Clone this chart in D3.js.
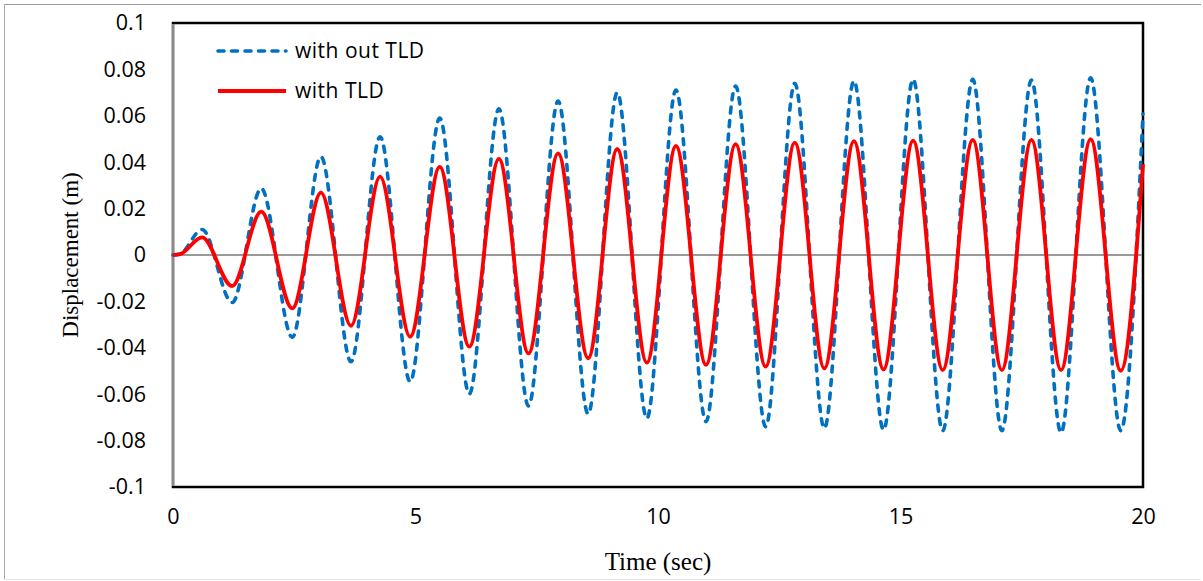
<!DOCTYPE html>
<html>
<head>
<meta charset="utf-8">
<script src="https://cdn.jsdelivr.net/npm/d3@7"></script>
<style>
  body { margin: 0; background: #fff; }
  svg { display: block; }
</style>
</head>
<body>
<div id="chart"></div>
<script>
// time (sec) of the readings: start, then each peak / trough, then the end
const time = [0, 0.15, 0.60, 1.22, 1.82, 2.46, 3.05, 3.67, 4.27, 4.89, 5.50, 6.11, 6.72, 7.33,
  7.94, 8.56, 9.16, 9.77, 10.37, 10.99, 11.60, 12.22, 12.82, 13.43, 14.04, 14.65, 15.26,
  15.87, 16.49, 17.09, 17.70, 18.31, 18.92, 19.54, 20];

// displacement (m) without the tuned liquid damper
const withoutTLD = [0, 0.0005, 0.011, -0.0205, 0.0287, -0.0355, 0.0424, -0.046, 0.051, -0.0546,
  0.059, -0.0599, 0.063, -0.0651, 0.0664, -0.0685, 0.070, -0.0704, 0.0711, -0.0718, 0.0728,
  -0.074, 0.074, -0.0747, 0.075, -0.0754, 0.0757, -0.0757, 0.0757, -0.0757, 0.0754, -0.0766,
  0.0764, -0.0757, 0.0608];

// displacement (m) with the tuned liquid damper
const withTLD = [0, 0.0004, 0.0076, -0.0134, 0.0187, -0.023, 0.0269, -0.0305, 0.0338, -0.0352,
  0.038, -0.0395, 0.0414, -0.0424, 0.0438, -0.0445, 0.0457, -0.0464, 0.047, -0.0474, 0.0478,
  -0.0481, 0.0484, -0.0489, 0.0491, -0.0493, 0.0493, -0.0496, 0.0496, -0.0496, 0.0496, -0.0496,
  0.0499, -0.0499, 0.0392];

const seriesNames = ["with out TLD", "with TLD"];
const xTicks = [0, 5, 10, 15, 20];
const yTicks = [0.1, 0.08, 0.06, 0.04, 0.02, 0, -0.02, -0.04, -0.06, -0.08, -0.1];

const width = 1203;
const height = 581;
const plot = { left: 173, right: 1143, top: 23, bottom: 487 };

const svg = d3.select("#chart")
  .append("svg")
  .attr("width", width)
  .attr("height", height);

// outer chart frame
svg.append("line").attr("x1", 4.5).attr("x2", 1201).attr("y1", 4.5).attr("y2", 4.5)
  .attr("stroke", "#999").attr("stroke-width", 1);
svg.append("line").attr("x1", 4.5).attr("x2", 4.5).attr("y1", 4.5).attr("y2", 579)
  .attr("stroke", "#aaa").attr("stroke-width", 1);
svg.append("line").attr("x1", 4.5).attr("x2", 1201).attr("y1", 579.5).attr("y2", 579.5)
  .attr("stroke", "#e3e3e3").attr("stroke-width", 1);

const x = d3.scaleLinear().domain([0, 20]).range([plot.left, plot.right]);
const y = d3.scaleLinear().domain([-0.1, 0.1]).range([plot.bottom, plot.top]);

// plot area border
svg.append("rect")
  .attr("x", plot.left)
  .attr("y", plot.top)
  .attr("width", plot.right - plot.left)
  .attr("height", plot.bottom - plot.top)
  .attr("fill", "none")
  .attr("stroke", "#000")
  .attr("stroke-width", 2.5);

// vertical axis (grey) and zero line
svg.append("line")
  .attr("x1", x(0)).attr("x2", x(0))
  .attr("y1", plot.top + 1).attr("y2", plot.bottom - 1)
  .attr("stroke", "#8a8a8a").attr("stroke-width", 2);

svg.append("line")
  .attr("x1", x(0)).attr("x2", plot.right - 1)
  .attr("y1", y(0)).attr("y2", y(0))
  .attr("stroke", "#999").attr("stroke-width", 2);

// tick labels (plain hyphen for negatives, as in the original)
const yAxis = d3.axisLeft(y)
  .tickValues(yTicks)
  .tickSize(0)
  .tickPadding(27)
  .tickFormat(d => String(+d.toFixed(2)));

svg.append("g")
  .attr("transform", `translate(${plot.left},0)`)
  .call(yAxis)
  .call(g => g.select(".domain").remove())
  .selectAll("text")
  .attr("font-family", "'Open Sans', sans-serif")
  .attr("font-size", 21.5)
  .attr("fill", "#000");

const xAxis = d3.axisBottom(x)
  .tickValues(xTicks)
  .tickSize(0)
  .tickPadding(22)
  .tickFormat(d => String(d));

svg.append("g")
  .attr("transform", `translate(0,${plot.bottom})`)
  .call(xAxis)
  .call(g => g.select(".domain").remove())
  .selectAll("text")
  .attr("font-family", "'Open Sans', sans-serif")
  .attr("font-size", 21.5)
  .attr("fill", "#000");

// axis titles
svg.append("text")
  .attr("x", (plot.left + plot.right) / 2)
  .attr("y", 570)
  .attr("text-anchor", "middle")
  .attr("font-family", "'Liberation Serif', serif")
  .attr("font-size", 25)
  .text("Time (sec)");

svg.append("text")
  .attr("transform", `translate(78,${(plot.top + plot.bottom) / 2}) rotate(-90)`)
  .attr("text-anchor", "middle")
  .attr("font-family", "'Liberation Serif', serif")
  .attr("font-size", 23)
  .text("Displacement (m)");

// series
const line = d3.line()
  .x((d, i) => x(time[i]))
  .y(d => y(d))
  .curve(d3.curveMonotoneX);

const styles = [
  { color: "#0070c0", dash: "6,7.5", width: 3.6 },
  { color: "#ff0000", dash: null, width: 3.8 }
];

[withoutTLD, withTLD].forEach((values, k) => {
  svg.append("path")
    .datum(values)
    .attr("d", line)
    .attr("fill", "none")
    .attr("stroke", styles[k].color)
    .attr("stroke-width", styles[k].width)
    .attr("stroke-dasharray", styles[k].dash)
    .attr("stroke-linecap", styles[k].dash ? "round" : "butt")
    .attr("stroke-linejoin", "round");
});

// legend
const legend = svg.append("g")
  .selectAll("g")
  .data(seriesNames)
  .join("g")
  .attr("transform", (d, i) => `translate(217,${51 + i * 40})`);

legend.append("line")
  .attr("x1", 1).attr("x2", 69)
  .attr("y1", 0).attr("y2", 0)
  .attr("stroke", (d, i) => styles[i].color)
  .attr("stroke-width", (d, i) => styles[i].width)
  .attr("stroke-dasharray", (d, i) => styles[i].dash)
  .attr("stroke-linecap", (d, i) => styles[i].dash ? "round" : "butt");

legend.append("text")
  .attr("x", 78)
  .attr("y", 0)
  .attr("dy", "0.35em")
  .attr("font-family", "'Open Sans', sans-serif")
  .attr("font-size", 21)
  .attr("letter-spacing", 0.5)
  .text(d => d);
</script>
</body>
</html>
